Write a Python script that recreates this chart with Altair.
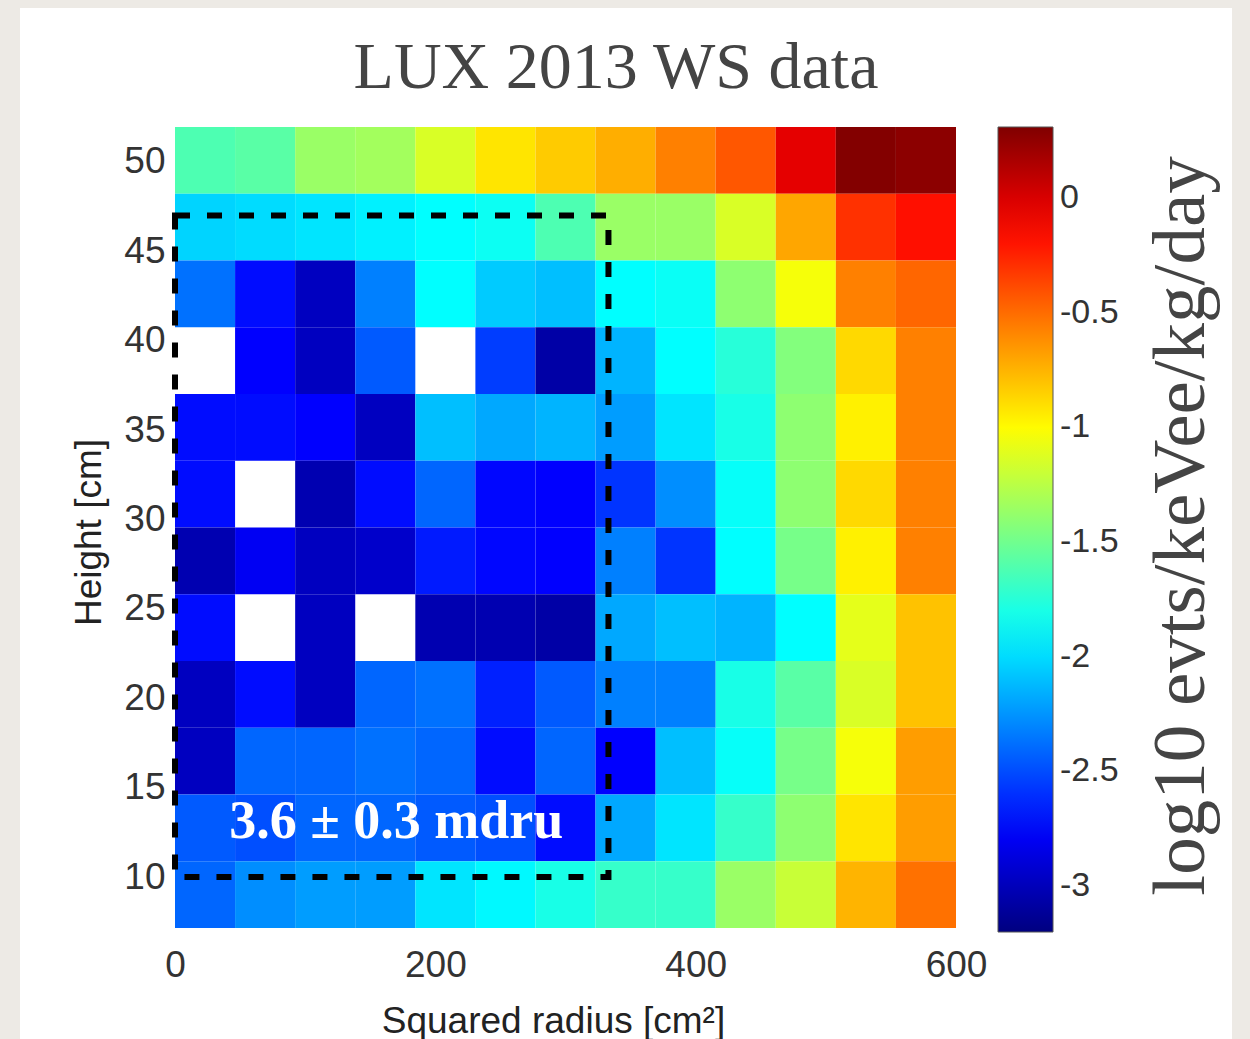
import altair as alt
import pandas as pd

# ---- data -------------------------------------------------------------
# squared-radius bin edges (cm^2), left to right
x_edges = [0, 46.15, 92.31, 138.46, 184.62, 230.77, 276.92, 323.08,
           369.23, 415.38, 461.54, 507.69, 553.85, 600]
# height bin edges (cm), top to bottom
y_edges = [51.95, 48.22, 44.48, 40.75, 37.02, 33.28, 29.55, 25.82,
           22.08, 18.35, 14.62, 10.88, 7.15]

N = None  # empty bin
# log10 evts/keVee/kg/day, rows from top (high) to bottom (low)
row_01 = [-1.62, -1.58, -1.36, -1.33, -1.14, -0.92, -0.83, -0.73, -0.57, -0.43, -0.04, 0.30, 0.27]
row_02 = [-2.03, -2.00, -1.97, -1.93, -1.88, -1.84, -1.62, -1.36, -1.36, -1.14, -0.70, -0.30, -0.18]
row_03 = [-2.37, -2.72, -2.98, -2.32, -1.88, -2.06, -2.10, -1.88, -1.85, -1.40, -1.04, -0.57, -0.48]
row_04 = [N, -2.76, -2.98, -2.45, N, -2.55, -3.07, -2.14, -1.88, -1.75, -1.44, -0.88, -0.57]
row_05 = [-2.72, -2.72, -2.76, -2.98, -2.10, -2.18, -2.14, -2.22, -1.97, -1.80, -1.40, -0.96, -0.57]
row_06 = [-2.72, N, -3.03, -2.72, -2.41, -2.74, -2.76, -2.58, -2.27, -1.86, -1.40, -0.88, -0.57]
row_07 = [-3.03, -2.80, -2.98, -2.94, -2.67, -2.74, -2.76, -2.32, -2.58, -1.88, -1.48, -0.96, -0.57]
row_08 = [-2.72, N, -2.98, N, -3.03, -3.03, -3.07, -2.18, -2.10, -2.14, -1.88, -1.10, -0.80]
row_09 = [-2.98, -2.72, -2.98, -2.41, -2.37, -2.65, -2.45, -2.32, -2.32, -1.80, -1.58, -1.14, -0.80]
row_10 = [-2.98, -2.41, -2.41, -2.37, -2.41, -2.72, -2.41, -2.76, -2.10, -1.86, -1.48, -1.04, -0.67]
row_11 = [-2.45, -2.49, -2.41, -2.41, -2.45, -2.49, -2.72, -2.18, -1.97, -1.70, -1.40, -0.92, -0.67]
row_12 = [-2.41, -2.27, -2.22, -2.22, -1.97, -1.90, -1.80, -1.70, -1.70, -1.36, -1.20, -0.75, -0.52]
rows = [row_01, row_02, row_03, row_04, row_05, row_06,
        row_07, row_08, row_09, row_10, row_11, row_12]

# fiducial-volume box and its label
box_r2 = [0, 333]
box_h = [10, 47]
label_text = "3.6 \u00b1 0.3 mdru"
label_r2 = [170]
label_h = [12.2]

x_ticks = [0, 200, 400, 600]
y_ticks = [10, 15, 20, 25, 30, 35, 40, 45, 50]
cbar_ticks = [-3, -2.5, -2, -1.5, -1, -0.5, 0]
cbar_stops = [-3.2, -2.76, -2.32, -1.88, -1.45, -1.01, -0.57, -0.13, 0.31]
jet = ["#000080", "#0000ff", "#0080ff", "#00ffff", "#80ff80",
       "#ffff00", "#ff8000", "#ff0000", "#800000"]

title_text = "LUX 2013 WS data"
cbar_title = "log10 evts/keVee/kg/day"

# ---- tables -----------------------------------------------------------
recs = []
for i, row in enumerate(rows):
    for j, v in enumerate(row):
        recs.append({"x0": x_edges[j], "x1": x_edges[j + 1],
                     "y0": y_edges[i + 1], "y1": y_edges[i], "v": v})
cells = pd.DataFrame(recs)
box_df = pd.DataFrame({"x0": [box_r2[0]], "x1": [box_r2[1]],
                       "y0": [box_h[0]], "y1": [box_h[1]]})
lab_df = pd.DataFrame({"x": label_r2, "y": label_h, "t": [label_text]})
one = pd.DataFrame({"k": [0]})

W, H = 781, 801
L, T = 175, 127

xscale = alt.Scale(domain=[0, 600], nice=False, zero=False)
yscale = alt.Scale(domain=[7.15, 51.95], nice=False, zero=False)
cscale = alt.Scale(domain=cbar_stops, range=jet, interpolate="rgb")

SANS = "Liberation Sans"
SERIF = "Liberation Serif"

panel = alt.Chart(one).mark_rect(fill="white").encode(
    x=alt.value(20 - L), x2=alt.value(1232 - L),
    y=alt.value(8 - T), y2=alt.value(1045 - T),
)

heat = alt.Chart(cells).transform_filter("isValid(datum.v)").mark_rect().encode(
    x=alt.X("x0:Q", scale=xscale, axis=alt.Axis(
        values=x_ticks, title="Squared radius [cm\u00b2]", grid=False, ticks=False,
        domain=False, labelFlush=False, labelFont=SANS, labelFontSize=37,
        labelColor="#333", labelPadding=19, titleFont=SANS, titleFontSize=37,
        titleFontWeight="normal", titleColor="#222", titleX=378, titleY=104,
        titleBaseline="alphabetic", zindex=1)),
    x2="x1:Q",
    y=alt.Y("y0:Q", scale=yscale, axis=alt.Axis(
        values=y_ticks, title="Height [cm]", grid=False, ticks=False, domain=False,
        labelFont=SANS, labelFontSize=37, labelColor="#333", labelPadding=10,
        titleFont=SANS, titleFontSize=37, titleFontWeight="normal", titleColor="#222",
        titleX=-75, titleY=405, titleBaseline="alphabetic", zindex=1)),
    y2="y1:Q",
    color=alt.Color("v:Q", scale=cscale, legend=alt.Legend(
        type="gradient", orient="none", legendX=823, legendY=0, direction="vertical",
        gradientLength=805, gradientThickness=55, values=cbar_ticks, title=None,
        labelExpr="'' + datum.value", labelFont=SANS, labelFontSize=34,
        labelColor="#333", labelOffset=7, gradientStrokeColor="#555",
        gradientStrokeWidth=1, padding=0, zindex=1)),
)

box = alt.Chart(box_df).mark_rect(
    fillOpacity=0, stroke="black", strokeWidth=6, strokeDash=[15, 17]
).encode(x="x0:Q", x2="x1:Q", y="y0:Q", y2="y1:Q")

label = alt.Chart(lab_df).mark_text(
    font=SERIF, fontWeight="bold", fontSize=54, color="white",
    align="center", baseline="alphabetic"
).encode(x="x:Q", y="y:Q", text="t:N")

ctitle = alt.Chart(one).mark_text(
    text=cbar_title, font=SERIF, fontSize=75, color="#444", angle=270,
    align="center", baseline="alphabetic"
).encode(x=alt.value(1204 - L), y=alt.value(526 - T))

title = alt.Chart(one).mark_text(
    text=title_text, font=SERIF, fontSize=66, color="#444",
    align="center", baseline="alphabetic"
).encode(x=alt.value(616 - L), y=alt.value(88 - T))

chart = alt.layer(panel, heat, box, label, ctitle, title).properties(
    width=W, height=H,
    autosize=alt.AutoSizeParams(type="none"),
    padding={"left": L, "top": T, "right": 1250 - L - W, "bottom": 1039 - T - H},
    background="#edeae5",
).configure_view(stroke=None)

chart.save("out.html", embed_options={"renderer": "svg", "actions": False})
